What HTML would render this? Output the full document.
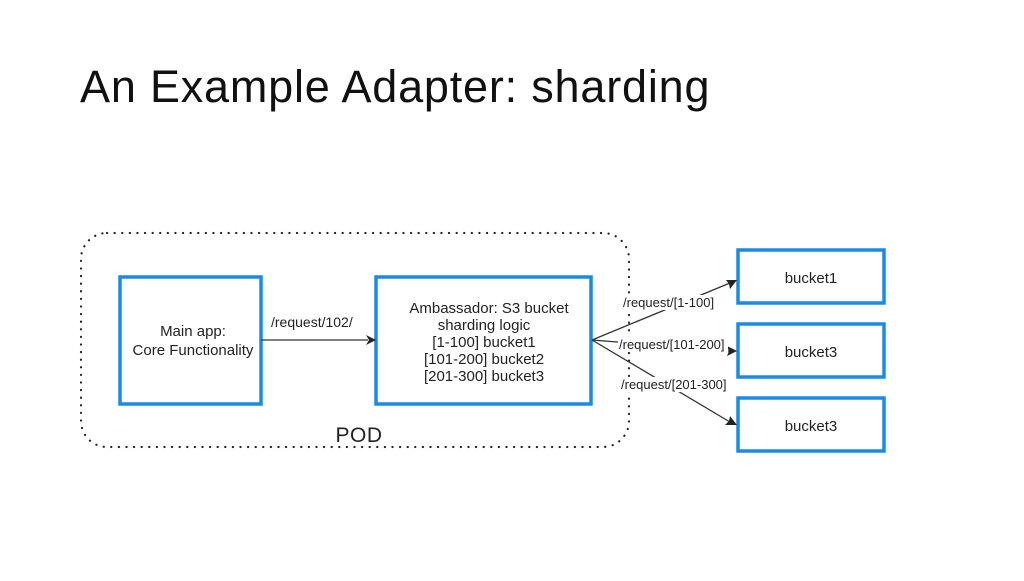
<!DOCTYPE html>
<html><head><style>
body{margin:0;background:#fff;}
</style></head><body>
<svg width="1024" height="576" xmlns="http://www.w3.org/2000/svg" font-family="Liberation Sans, sans-serif">
<rect width="1024" height="576" fill="#fff"/>
<text x="80" y="102" font-size="45" letter-spacing="0.8" fill="#111">An Example Adapter: sharding</text>
<rect x="81" y="233" width="548" height="214" rx="26" fill="none" stroke="#222" stroke-width="2.2" stroke-dasharray="0.1 7.5" stroke-linecap="round"/>
<g fill="none" stroke="#1a8ae6" stroke-width="3.5">
<rect x="120" y="277" width="141" height="127"/>
<rect x="376" y="277" width="215" height="127"/>
<rect x="738" y="250" width="146" height="53"/>
<rect x="738" y="324" width="146" height="53"/>
<rect x="738" y="398" width="146" height="53"/>
</g>
<g font-size="15" fill="#222" text-anchor="middle">
<text x="193" y="336">Main app:</text>
<text x="193" y="355">Core Functionality</text>
<text x="489" y="313">Ambassador: S3 bucket</text>
<text x="484" y="330">sharding logic</text>
<text x="484" y="347">[1-100] bucket1</text>
<text x="484" y="364">[101-200] bucket2</text>
<text x="484" y="381">[201-300] bucket3</text>
<text x="811" y="283">bucket1</text>
<text x="811" y="357">bucket3</text>
<text x="811" y="431">bucket3</text>
<text x="359" y="442" font-size="21" letter-spacing="0.5">POD</text>
</g>
<g stroke="#333" stroke-width="1.3" fill="none">
<line x1="261" y1="340" x2="368" y2="340"/>
<line x1="592" y1="340" x2="730" y2="283"/>
<line x1="592" y1="340" x2="730" y2="351"/>
<line x1="592" y1="340" x2="730" y2="422"/>
</g>
<g fill="#222">
<polygon points="376,340 366,335 369,340 366,345"/>
<polygon points="737,280 726,280 729,284 730,289"/>
<polygon points="737,351 727,346 729,351 727,356"/>
<polygon points="737,425 730,416 729,421 725,425"/>
</g>
<g font-size="13" fill="#222">
<rect x="621" y="295" width="95" height="15" fill="#fff"/>
<text x="623" y="307">/request/[1-100]</text>
<rect x="618" y="337" width="110" height="15" fill="#fff"/>
<text x="619" y="349">/request/[101-200]</text>
<rect x="620" y="377" width="110" height="15" fill="#fff"/>
<text x="621" y="389">/request/[201-300]</text>
<text x="271" y="327" font-size="14">/request/102/</text>
</g>
</svg>
</body></html>
